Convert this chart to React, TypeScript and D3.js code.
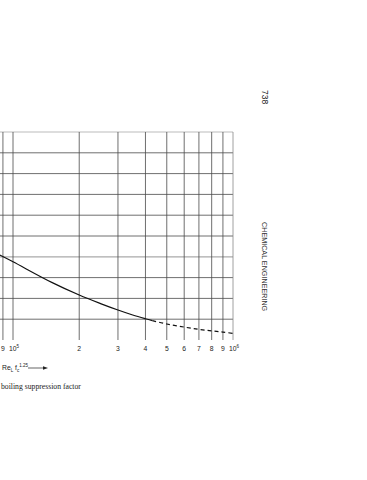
import * as d3 from "d3";
import { useEffect, useRef } from "react";

// Re_L f_c^1.25 readings and suppression factor S
const solidRe = [8.7e4, 1e5, 1.5e5, 2e5, 2.5e5, 3e5, 3.5e5, 4e5, 4.3e5];
const solidS = [0.409, 0.376, 0.277, 0.216, 0.175, 0.144, 0.12, 0.102, 0.093];
const dashRe = [4.3e5, 5e5, 6e5, 7e5, 8e5, 9e5, 1e6];
const dashS = [0.093, 0.077, 0.062, 0.051, 0.044, 0.038, 0.032];

const xGrid = [9e4, 1e5, 2e5, 3e5, 4e5, 5e5, 6e5, 7e5, 8e5, 9e5, 1e6];
const xLabels = ["9", "10", "2", "3", "4", "5", "6", "7", "8", "9", "10"];
const yGrid = [0.1, 0.2, 0.3, 0.4, 0.5, 0.6, 0.7, 0.8, 0.9, 1.0];

export default function App() {
  const svgRef = useRef<SVGSVGElement | null>(null);

  useEffect(() => {
    if (!svgRef.current) return;
    const svg = d3.select(svgRef.current);
    svg.selectAll("*").remove();

    const x = d3.scaleLog().domain([1e5, 1e6]).range([13, 233]);
    const y = d3.scaleLinear().domain([0, 1]).range([340, 132]);
    const sans = "Liberation Sans, Arial, sans-serif";

    // horizontal grid
    svg
      .append("g")
      .selectAll("line")
      .data(yGrid)
      .enter()
      .append("line")
      .attr("x1", -20)
      .attr("x2", x(1e6))
      .attr("y1", (d) => y(d))
      .attr("y2", (d) => y(d))
      .attr("stroke", (d) => (d === 1 || d === 0.4 ? "#aaa" : "#4a4a4a"))
      .attr("stroke-width", (d) => (d === 0.4 ? 1.2 : 0.8));

    // vertical grid
    svg
      .append("g")
      .selectAll("line")
      .data(xGrid)
      .enter()
      .append("line")
      .attr("x1", (d) => x(d))
      .attr("x2", (d) => x(d))
      .attr("y1", y(1))
      .attr("y2", y(0))
      .attr("stroke", (d) => (d === 1e6 ? "#888" : "#4a4a4a"))
      .attr("stroke-width", 0.8);

    // tick labels
    const lab = svg
      .append("g")
      .attr("font-family", sans)
      .attr("font-size", 6.8)
      .attr("fill", "#222");
    xGrid.forEach((v, i) => {
      const t = lab
        .append("text")
        .attr("x", x(v))
        .attr("y", 350.5)
        .attr("text-anchor", xLabels[i] === "10" ? "start" : "middle");
      if (xLabels[i] === "10") {
        t.attr("x", x(v) - 4);
        t.append("tspan").text("10");
        t.append("tspan")
          .attr("dy", -3)
          .attr("font-size", 4.5)
          .text(v === 1e5 ? "5" : "6");
      } else {
        t.text(xLabels[i]);
      }
    });

    const solidPts: [number, number][] = solidRe.map((r, i) => [x(r), y(solidS[i])]);
    const dashPts: [number, number][] = dashRe.map((r, i) => [x(r), y(dashS[i])]);
    const path = d3.line().curve(d3.curveCatmullRom);

    svg
      .append("path")
      .attr("d", path(solidPts))
      .attr("fill", "none")
      .attr("stroke", "#111")
      .attr("stroke-width", 1.2);
    svg
      .append("path")
      .attr("d", path(dashPts))
      .attr("fill", "none")
      .attr("stroke", "#111")
      .attr("stroke-width", 1.2)
      .attr("stroke-dasharray", "4,3");

    // axis caption with arrow
    const cap = svg
      .append("text")
      .attr("x", 2)
      .attr("y", 370)
      .attr("font-family", sans)
      .attr("font-size", 6.8)
      .attr("fill", "#222");
    cap.append("tspan").text("Re");
    cap.append("tspan").attr("dy", 1.5).attr("font-size", 4.5).text("L");
    cap.append("tspan").attr("dy", -1.5).text(" f");
    cap.append("tspan").attr("dy", 1.5).attr("font-size", 4.5).text("c");
    cap.append("tspan").attr("dy", -4.5).attr("font-size", 4.5).text("1.25");
    svg
      .append("line")
      .attr("x1", 28)
      .attr("x2", 44)
      .attr("y1", 368)
      .attr("y2", 368)
      .attr("stroke", "#222")
      .attr("stroke-width", 0.7);
    svg
      .append("path")
      .attr("d", "M48,368 L43,366.3 L43,369.7 Z")
      .attr("fill", "#222");

    svg
      .append("text")
      .attr("x", 1)
      .attr("y", 389)
      .attr("font-family", "Liberation Serif, Times New Roman, serif")
      .attr("font-size", 7.7)
      .attr("fill", "#222")
      .text("boiling suppression factor");

    // rotated page furniture
    svg
      .append("text")
      .attr("transform", "translate(262,90) rotate(90)")
      .attr("font-family", sans)
      .attr("font-size", 8.5)
      .attr("fill", "#222")
      .text("738");
    svg
      .append("text")
      .attr("transform", "translate(262,222) rotate(90)")
      .attr("font-family", sans)
      .attr("font-size", 7.2)
      .attr("fill", "#333")
      .text("CHEMICAL ENGINEERING");
  }, []);

  return (
    <svg
      ref={svgRef}
      width={367}
      height={480}
      style={{ position: "absolute", left: 0, top: 0, background: "#fff", overflow: "hidden" }}
    />
  );
}
